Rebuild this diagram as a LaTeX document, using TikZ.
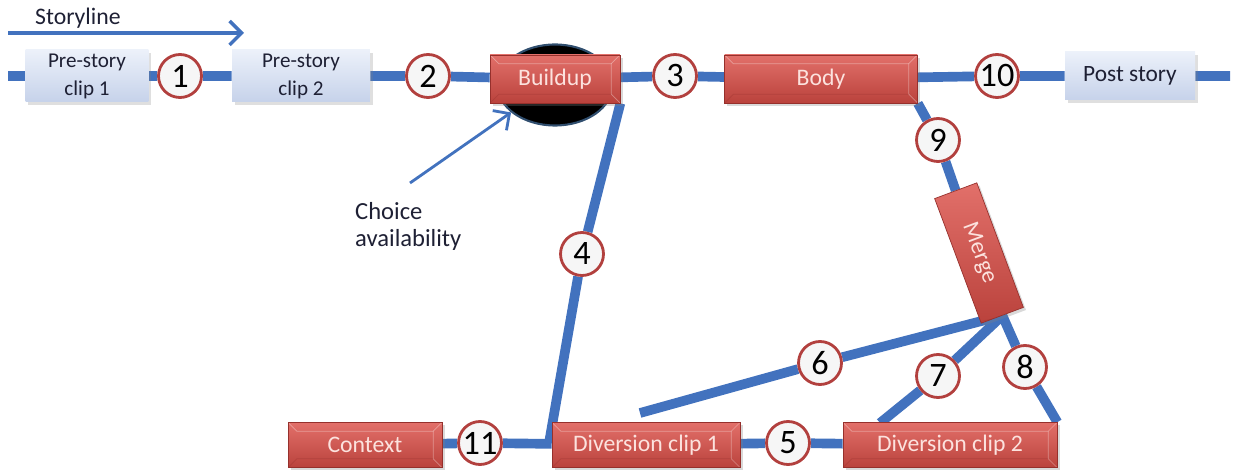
\documentclass[tikz,border=0pt]{standalone}
\usepackage{fontspec}
\setmainfont{Carlito}
\usetikzlibrary{arrows.meta,shapes.geometric,shadows,backgrounds}

\definecolor{lineblue}{RGB}{66,114,190}
\definecolor{redtop}{RGB}{226,112,106}
\definecolor{redbot}{RGB}{186,66,60}
\definecolor{rededge}{RGB}{150,48,44}
\definecolor{redtext}{RGB}{252,226,222}
\definecolor{ltop}{RGB}{236,241,250}
\definecolor{lbot}{RGB}{198,210,234}
\definecolor{ltext}{RGB}{30,32,52}
\definecolor{numred}{RGB}{178,64,62}
\definecolor{numfill}{RGB}{246,246,246}
\definecolor{edgeblue}{RGB}{48,78,110}

\begin{document}
\begin{tikzpicture}[x=0.02cm, y=-0.02cm, every node/.style={font=\fontsize{12}{16}\selectfont},
  rbox/.style={draw=rededge, line width=0.4pt, top color=redtop, bottom color=redbot, text=redtext,
    inner sep=0pt, align=center, font=\fontsize{13.5}{15}\selectfont,
    drop shadow={opacity=0.3, shadow xshift=1.5pt, shadow yshift=-1.5pt},
    path picture={
      \draw[white, opacity=0.35] (path picture bounding box.north west) -- ++(5pt,-5pt) -| ([xshift=-5pt,yshift=5pt]path picture bounding box.south east) -- (path picture bounding box.south east);
      \draw[white, opacity=0.35] (path picture bounding box.north east) -- ++(-5pt,-5pt);
      \draw[rededge, opacity=0.35] (path picture bounding box.south west) -- ++(5pt,5pt) -- ([xshift=-5pt,yshift=5pt]path picture bounding box.south east);
    }},
  lbox/.style={top color=ltop, bottom color=lbot, text=ltext, inner sep=0pt, align=center,
    drop shadow={opacity=0.25, shadow xshift=1.5pt, shadow yshift=-1.5pt}},
  num/.style={circle, draw=numred, line width=1.6pt, fill=numfill, minimum size=0.86cm, inner sep=0pt,
    font=\fontsize{19.5}{20}\selectfont},
  lnk/.style={lineblue, line width=5.5pt},
  arr/.style={-{Straight Barb[length=2.4mm,width=4.8mm]}, lineblue, line width=2pt}]
\useasboundingbox (0,0) rectangle (1233,472);

% choice marker behind Buildup
\begin{scope}[on background layer]
\node[ellipse, fill=black, draw=edgeblue, line width=1.2pt, minimum width=2.3cm, minimum height=1.62cm, inner sep=0pt] (chc) at (555,85) {};
\end{scope}

% storyline
\node[anchor=base west, text=ltext, font=\fontsize{13.5}{15}\selectfont] (sl) at (29,25) {Storyline};
\coordinate (s0) at (8,33);
\coordinate (s1) at (244,33);
\draw[arr] (s0) -- (s1);

% main storyline clips
\node[lbox, minimum width=2.46cm, minimum height=1.04cm] (pre1) at (87,76) {Pre-story\\clip 1};
\node[lbox, minimum width=2.76cm, minimum height=1.04cm] (pre2) at (301,76) {Pre-story\\clip 2};
\node[rbox, minimum width=2.6cm, minimum height=0.96cm] (build) at (555,79) {Buildup};
\node[rbox, minimum width=3.86cm, minimum height=0.96cm] (body) at (821,79) {Body};
\node[lbox, minimum width=2.6cm, minimum height=0.96cm, font=\fontsize{13.3}{15}\selectfont] (post) at (1130,76) {Post story};
\node[rbox, minimum width=2.66cm, minimum height=0.9cm, rotate=-69.5] (merge) at (979,253) {Merge};
\node[rbox, minimum width=3.08cm, minimum height=0.9cm] (context) at (365,445) {Context};
\node[rbox, minimum width=3.76cm, minimum height=0.9cm] (div1) at (646,445) {Diversion clip 1};
\node[rbox, minimum width=4.28cm, minimum height=0.9cm] (div2) at (950,445) {Diversion clip 2};

% numbered choices
\node[num] (c1) at (180,76) {1};
\node[num] (c2) at (428,76) {2};
\node[num] (c3) at (675,76) {3};
\node[num] (c4) at (582,254) {4};
\node[num] (c5) at (788,443) {5};
\node[num] (c6) at (820,363) {6};
\node[num] (c7) at (938,376) {7};
\node[num] (c8) at (1025,367) {8};
\node[num] (c9) at (938,140) {9};
\node[num] (c10) at (997,76) {10};
\node[num] (c11) at (480,443) {11};

% label for the marker
\node[anchor=north west, align=left, text=ltext, font=\fontsize{14}{15.5}\selectfont] (choice) at (349,196) {Choice\\availability};
\coordinate (ca) at (410,183);
\draw[arr, line width=1.6pt] (ca) -- (chc.212);

% connectors
\coordinate (ls) at (8,76);
\coordinate (le) at (1230,76);
\coordinate (j4) at (549,443);
\coordinate (e6) at (640,413);
\coordinate (e7) at (880,423);
\begin{scope}[on background layer]
\draw[lnk] (ls) -- (pre1) -- (c1) -- (pre2) -- (c2) -- (build) -- (c3) -- (body) -- (c10) -- (post) -- (le);
\draw[lnk] (build.south east) -- (c4) -- (j4);
\draw[lnk] (context) -- (c11) -- (div1) -- (c5) -- (div2);
\draw[lnk] (body.south east) -- (c9) -- (merge.west);
\draw[lnk] (merge.east) -- (c6) -- (e6);
\draw[lnk] (merge.east) -- (c7) -- (e7);
\draw[lnk] (merge.east) -- (c8) -- (div2.north east);
\end{scope}
\end{tikzpicture}
\end{document}
